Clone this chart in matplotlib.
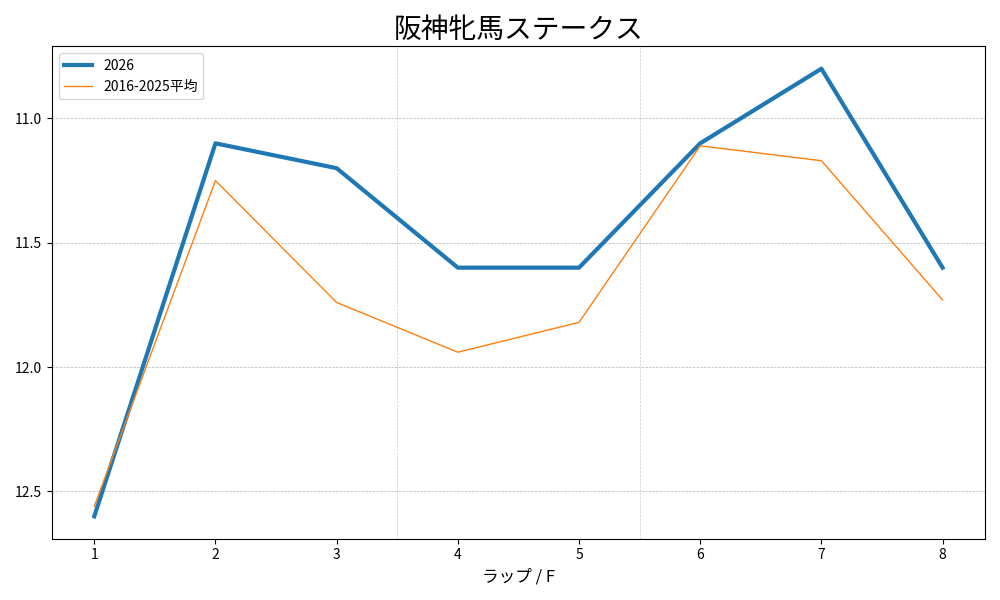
import matplotlib
matplotlib.use("Agg")
import matplotlib.pyplot as plt
from matplotlib.ticker import MultipleLocator

plt.rcParams['font.family'] = ['Noto Sans CJK JP', 'DejaVu Sans']

laps = [1, 2, 3, 4, 5, 6, 7, 8]
times_2026 = [12.6, 11.1, 11.2, 11.6, 11.6, 11.1, 10.8, 11.6]
times_avg = [12.56, 11.25, 11.74, 11.94, 11.82, 11.11, 11.17, 11.73]
section_marks = [3.5, 5.5]

fig, ax = plt.subplots(figsize=(10, 6), dpi=100)
ax.plot(laps, times_2026, color="#1f77b4", linewidth=3, label="2026")
ax.plot(laps, times_avg, color="#ff7f0e", linewidth=1, label="2016-2025平均")

for x in section_marks:
    ax.axvline(x, color="gray", linestyle="--", linewidth=0.5, alpha=0.4)

ax.invert_yaxis()
ax.set_xticks(laps)
ax.yaxis.set_major_locator(MultipleLocator(0.5))
ax.grid(axis="y", linestyle="--", linewidth=0.5, color="gray", alpha=0.6)
ax.set_title("阪神牝馬ステークス", fontsize=20)
ax.set_xlabel("ラップ / F", fontsize=12)
ax.legend(loc="upper left")

fig.tight_layout()
fig.savefig("out.png", dpi=100)
